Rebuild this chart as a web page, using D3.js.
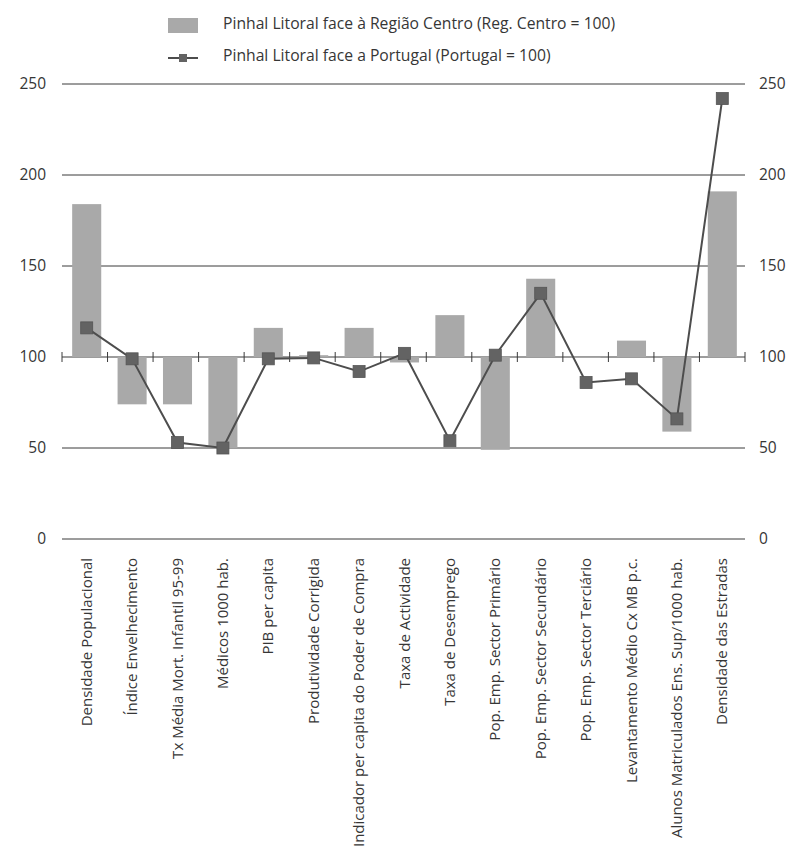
<!DOCTYPE html>
<html>
<head>
<meta charset="utf-8">
<script src="https://cdn.jsdelivr.net/npm/d3@7"></script>
<style>
  body { margin: 0; background: #fff; }
  text { font-family: "Open Sans", sans-serif; fill: #363636; }
</style>
</head>
<body>
<div id="chart"></div>
<script>
// Chart data
const categories = [
    'Densidade Populacional',
    'Índice Envelhecimento',
    'Tx Média Mort. Infantil 95-99',
    'Médicos 1000 hab.',
    'PIB per capita',
    'Produtividade Corrigida',
    'Indicador per capita do Poder de Compra',
    'Taxa de Actividade',
    'Taxa de Desemprego',
    'Pop. Emp. Sector Primário',
    'Pop. Emp. Sector Secundário',
    'Pop. Emp. Sector Terciário',
    'Levantamento Médio Cx MB p.c.',
    'Alunos Matriculados Ens. Sup/1000 hab.',
    'Densidade das Estradas'
];
const regiaoCentro = [184, 74, 74, 50, 116, 101, 116, 97, 123, 49, 143, 99.5, 109, 59, 191];
const portugal = [116, 99, 53, 50, 99, 99.5, 92, 102, 54, 101, 135, 86, 88, 66, 242];
const yTicks = [0, 50, 100, 150, 200, 250];
const legendLabels = [
    'Pinhal Litoral face à Região Centro (Reg. Centro = 100)',
    'Pinhal Litoral face a Portugal (Portugal = 100)'
];

const width = 786;
const height = 849;
const plotLeft = 62, plotRight = 745;
const plotTop = 84, plotBottom = 539;

const svg = d3.select('#chart')
    .append('svg')
    .attr('width', width)
    .attr('height', height);

const x = d3.scaleBand()
    .domain(categories)
    .range([plotLeft + 2, plotRight])
    .paddingInner(0.36)
    .paddingOuter(0.18);

const y = d3.scaleLinear()
    .domain([0, 250])
    .range([plotBottom, plotTop]);

// Gridlines (not at 100, that one is the category axis)
svg.append('g')
    .selectAll('line')
    .data(yTicks.filter(d => d !== 100))
    .join('line')
    .attr('x1', plotLeft)
    .attr('x2', plotRight)
    .attr('y1', d => y(d))
    .attr('y2', d => y(d))
    .attr('stroke', '#3a3a3a')
    .attr('stroke-width', 1);

// Left and right tick labels
svg.append('g')
    .selectAll('text')
    .data(yTicks)
    .join('text')
    .attr('x', 46)
    .attr('y', d => y(d))
    .attr('dy', '0.35em')
    .attr('text-anchor', 'end')
    .attr('font-size', 15.5)
    .text(d => d);

svg.append('g')
    .selectAll('text')
    .data(yTicks)
    .join('text')
    .attr('x', 759)
    .attr('y', d => y(d))
    .attr('dy', '0.35em')
    .attr('text-anchor', 'start')
    .attr('font-size', 15.5)
    .text(d => d);

// Category axis sitting on 100
const base = y(100);
svg.append('line')
    .attr('x1', plotLeft)
    .attr('x2', plotRight)
    .attr('y1', base)
    .attr('y2', base)
    .attr('stroke', '#3a3a3a')
    .attr('stroke-width', 1);

const boundaries = d3.range(categories.length + 1)
    .map(i => plotLeft + i * (plotRight - plotLeft) / categories.length);
svg.append('g')
    .selectAll('line')
    .data(boundaries)
    .join('line')
    .attr('x1', d => d)
    .attr('x2', d => d)
    .attr('y1', base - 5)
    .attr('y2', base + 5)
    .attr('stroke', '#3a3a3a')
    .attr('stroke-width', 1);

// Bars from the 100 baseline
svg.append('g')
    .selectAll('rect')
    .data(regiaoCentro)
    .join('rect')
    .attr('x', (d, i) => x(categories[i]))
    .attr('width', x.bandwidth())
    .attr('y', d => Math.min(y(d), base))
    .attr('height', d => Math.max(1, Math.abs(y(d) - base)))
    .attr('fill', '#a9a9a9');

// Line series
const cx = i => x(categories[i]) + x.bandwidth() / 2;
const line = d3.line()
    .x((d, i) => cx(i))
    .y(d => y(d));

svg.append('path')
    .datum(portugal)
    .attr('d', line)
    .attr('fill', 'none')
    .attr('stroke', '#4d4d4d')
    .attr('stroke-width', 2);

const ms = 12;
svg.append('g')
    .selectAll('rect')
    .data(portugal)
    .join('rect')
    .attr('x', (d, i) => cx(i) - ms / 2)
    .attr('y', d => y(d) - ms / 2)
    .attr('width', ms)
    .attr('height', ms)
    .attr('fill', '#636363')
    .attr('stroke', '#555')
    .attr('stroke-width', 0.8);

// Category labels, rotated
svg.append('g')
    .selectAll('text')
    .data(categories)
    .join('text')
    .attr('transform', d => `translate(${x(d) + x.bandwidth() / 2 + 5}, 558) rotate(-90)`)
    .attr('text-anchor', 'end')
    .attr('font-size', 15)
    .text(d => d);

// Legend
const legend = svg.append('g');
legend.append('rect')
    .attr('x', 168)
    .attr('y', 18)
    .attr('width', 30)
    .attr('height', 15)
    .attr('fill', '#a9a9a9');
legend.append('text')
    .attr('x', 223)
    .attr('y', 24)
    .attr('dy', '0.35em')
    .attr('font-size', 15.7)
    .text(legendLabels[0]);

legend.append('line')
    .attr('x1', 168)
    .attr('x2', 198)
    .attr('y1', 58)
    .attr('y2', 58)
    .attr('stroke', '#4d4d4d')
    .attr('stroke-width', 2);
legend.append('rect')
    .attr('x', 179)
    .attr('y', 54)
    .attr('width', 8)
    .attr('height', 8)
    .attr('fill', '#636363');
legend.append('text')
    .attr('x', 223)
    .attr('y', 56)
    .attr('dy', '0.35em')
    .attr('font-size', 15.7)
    .text(legendLabels[1]);
</script>
</body>
</html>
